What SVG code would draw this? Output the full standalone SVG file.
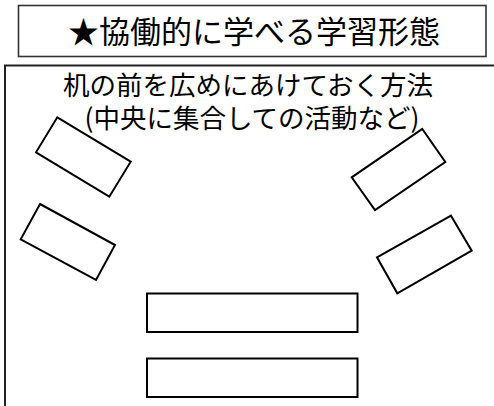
<svg xmlns="http://www.w3.org/2000/svg" width="494" height="406" viewBox="0 0 494 406">
<style>
.t{font-family:"Noto Sans CJK JP","Noto Sans",sans-serif;fill:#000;text-anchor:middle}
.desk{fill:#fff;stroke:#000;stroke-width:2;stroke-linejoin:miter}
.frame{fill:#fff;stroke:#222;stroke-width:2}
</style>
<rect width="494" height="406" fill="#fff"/>
<g id="title">
<rect x="18.5" y="5.5" width="467.5" height="51" fill="#fff" stroke="#333" stroke-width="1.6"/>
<text class="t" x="254" y="43" font-size="31">★協働的に学べる学習形態</text>
</g>
<g id="room">
<rect class="frame" x="5" y="65.5" width="500" height="360" stroke-width="2.2"/>
<text class="t" x="248" y="95" font-size="26.5">机の前を広めにあけておく方法</text>
<text class="t" x="252" y="128" font-size="26.5">(中央に集合しての活動など)</text>
</g>
<g id="desk-left-1"><polygon class="desk" points="57.3,117.3 130.7,161.7 109.3,196.7 36,152.3"/></g>
<g id="desk-left-2"><polygon class="desk" points="40,204 115,245 96,280 20.7,239.3"/></g>
<g id="desk-right-1"><polygon class="desk" points="422.3,129 445.3,162 375,210 351.7,177.3"/></g>
<g id="desk-right-2"><polygon class="desk" points="451,215.7 471.7,250.7 397.3,293.3 377,257.3"/></g>
<g id="desk-front-1"><rect class="desk" x="147" y="293.5" width="210.5" height="38.5"/></g>
<g id="desk-front-2"><rect class="desk" x="147" y="358.5" width="210.5" height="38.5"/></g>
<g id="connectors"></g>
</svg>
